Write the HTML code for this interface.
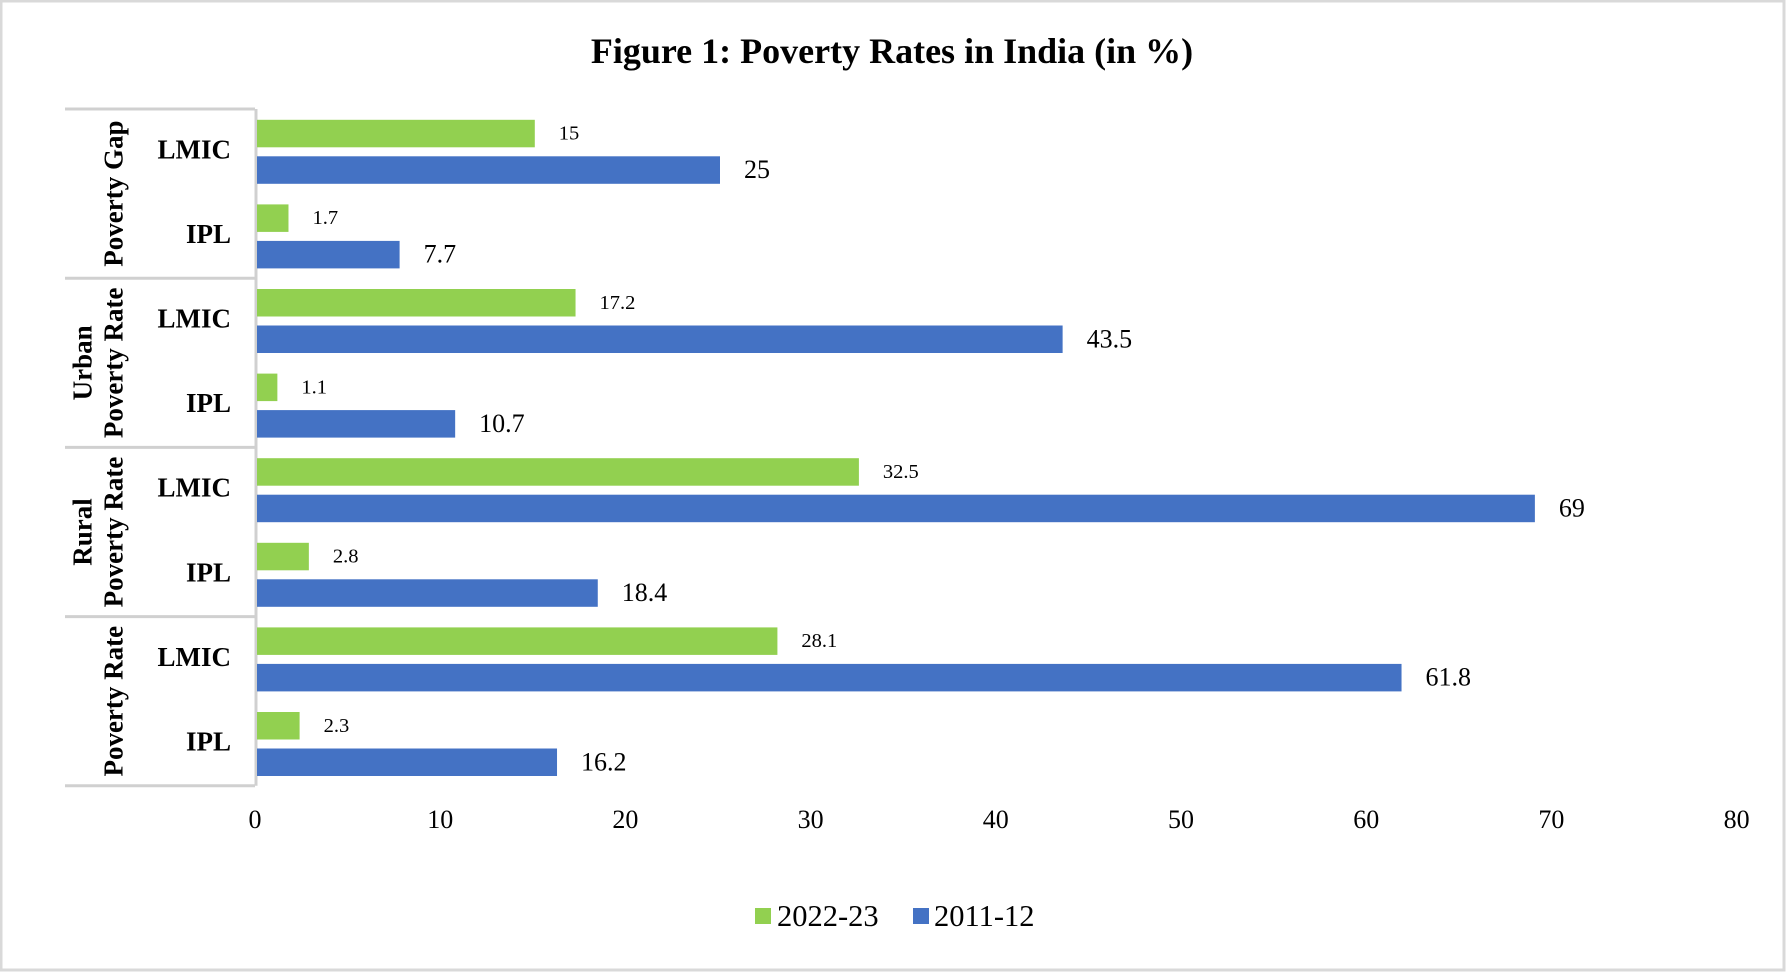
<!DOCTYPE html>
<html><head><meta charset="utf-8"><style>
html,body{margin:0;padding:0;background:#fff;}
svg{display:block;font-family:"Liberation Serif",serif;}
</style></head><body>
<svg id="chart" width="1786" height="972" viewBox="0 0 1786 972">
<rect x="1" y="1" width="1783" height="969" fill="#fff" stroke="#d9d9d9" stroke-width="3"/>
<text x="892" y="63" text-anchor="middle" font-size="36" font-weight="bold">Figure 1: Poverty Rates in India (in %)</text>
<g id="table"></g>
<g id="bars"></g>
<g id="ticks"></g>
<g>
<rect x="755" y="908" width="16" height="16" fill="#92d050"/>
<text x="777" y="926" font-size="30.5">2022-23</text>
<rect x="913" y="908" width="16" height="16" fill="#4472c4"/>
<text x="934" y="926" font-size="30.5">2011-12</text>
</g>
</svg>
<script>
const groups = [["Poverty Gap"], ["Urban","Poverty Rate"], ["Rural","Poverty Rate"], ["Poverty Rate"]];
const subCategories = ["LMIC","IPL"];
const values2022 = [15, 1.7, 17.2, 1.1, 32.5, 2.8, 28.1, 2.3];
const values2011 = [25, 7.7, 43.5, 10.7, 69, 18.4, 61.8, 16.2];
const ticks = [0,10,20,30,40,50,60,70,80];

const NS = "http://www.w3.org/2000/svg";
const X0 = 257, UNIT = 18.52, TOP = 109, CAT = 84.6, BH = 27.5;
function xs(v){ return X0 + v*UNIT; }
function mk(tag, attrs, parent){ const e=document.createElementNS(NS,tag); for(const k in attrs) e.setAttribute(k,attrs[k]); parent.appendChild(e); return e; }
const table=document.getElementById('table'), bars=document.getElementById('bars'), tk=document.getElementById('ticks');

for(let g=0; g<=groups.length; g++){
  const y = TOP + g*CAT*2;
  const l = mk('line',{x1:65,x2:255,y1:y,y2:y,stroke:'#d0d0d0','stroke-width':3},table);
  
  
}
const vl = mk('line',{x1:256,x2:256,y1:TOP,y2:TOP+groups.length*CAT*2,stroke:'#d0d0d0','stroke-width':3},table);



groups.forEach((lines,g)=>{
  const cy = TOP + g*CAT*2 + CAT;
  lines.forEach((txt,i)=>{
    const x = lines.length===1 ? 113 : (i===0 ? 82 : 113);
    const t = mk('text',{x:x,y:cy,'text-anchor':'middle','font-size':27,'font-weight':'bold',transform:`rotate(-90 ${x} ${cy})`,dy:'0.35em'},table);
    t.textContent = txt;
    
    
  });
  subCategories.forEach((s,j)=>{
    const yc = TOP + (g*2+j)*CAT + CAT/2;
    const t = mk('text',{x:231,y:yc+7,'text-anchor':'end','font-size':27,'font-weight':'bold'},table);
    t.textContent = s;
    
    
  });
});

values2022.forEach((v,i)=>{
  const y = TOP + i*CAT + 10.8;
  const r = mk('rect',{x:X0,y:y,width:xs(v)-X0,height:BH,fill:'#92d050'},bars);
  
  
  const t = mk('text',{x:xs(v)+24,y:y+BH/2+6,'font-size':20.5},bars);
  t.textContent = String(v);
  
  
});
values2011.forEach((v,i)=>{
  const y = TOP + i*CAT + 47.3;
  const r = mk('rect',{x:X0,y:y,width:xs(v)-X0,height:BH,fill:'#4472c4'},bars);
  
  
  const t = mk('text',{x:xs(v)+24,y:y+BH/2+8,'font-size':26},bars);
  t.textContent = String(v);
  
  
});
ticks.forEach(v=>{
  const t = mk('text',{x:xs(v)-2,y:828,'text-anchor':'middle','font-size':26},tk);
  t.textContent = String(v);
  
  
});
</script>
</body></html>
